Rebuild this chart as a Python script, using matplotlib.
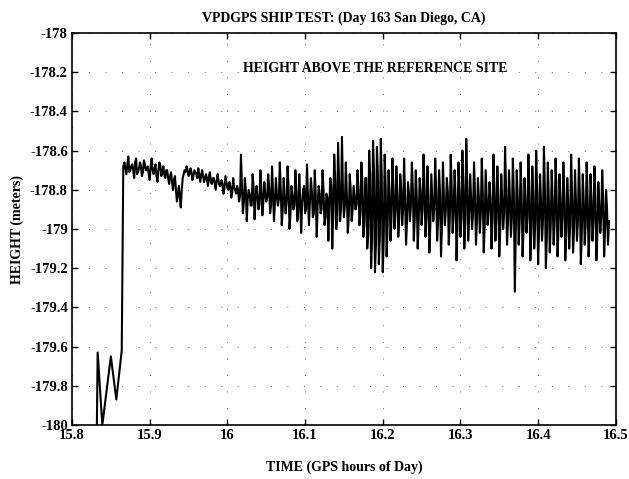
import numpy as np
import matplotlib
matplotlib.use('Agg')
from matplotlib import pyplot as plt
from matplotlib.ticker import FuncFormatter

plt.rcParams['font.family'] = ['Liberation Serif', 'DejaVu Serif']
plt.rcParams['font.weight'] = 'bold'
plt.rcParams['axes.unicode_minus'] = False

# start-up part of the record (receiver still settling)
t_start = [15.832, 15.833, 15.839, 15.850, 15.857, 15.864, 15.866]
h_start = [-180.0, -179.63, -180.0, -179.65, -179.87, -179.62, -178.68]

# main record, sampled every 0.0025 h from 15.8675 (spike extremes)
t0 = 15.8675
dt = 0.0025
h_main = [
    -178.66, -178.72, -178.63, -178.70, -178.67, -178.74, -178.64, -178.71, -178.66, -178.73,
    -178.65, -178.70, -178.68, -178.75, -178.64, -178.72, -178.67, -178.76, -178.66, -178.73,
    -178.68, -178.74, -178.70, -178.77, -178.71, -178.80, -178.73, -178.86, -178.78, -178.89,
    -178.74, -178.70, -178.68, -178.73, -178.69, -178.75, -178.70, -178.72, -178.69, -178.76,
    -178.70, -178.76, -178.72, -178.78, -178.71, -178.77, -178.74, -178.80, -178.72, -178.78,
    -178.75, -178.82, -178.73, -178.79, -178.76, -178.84, -178.74, -178.80, -178.78, -178.86,
    -178.62, -178.92, -178.74, -178.96, -178.80, -178.88, -178.72, -178.95, -178.78, -178.90,
    -178.70, -178.93, -178.76, -178.86, -178.72, -178.92, -178.68, -178.96, -178.74, -178.88,
    -178.66, -178.98, -178.74, -178.92, -178.68, -179.00, -178.78, -178.90, -178.70, -178.96,
    -178.72, -179.02, -178.80, -178.92, -178.67, -178.98, -178.74, -178.94, -178.70, -179.04,
    -178.78, -178.92, -178.70, -178.98, -178.82, -179.06, -178.74, -179.10, -178.62, -179.00,
    -178.56, -178.96, -178.53, -178.94, -178.66, -179.02, -178.72, -178.96, -178.78, -178.90,
    -178.70, -178.98, -178.66, -179.04, -178.74, -179.10, -178.60, -179.20, -178.55, -179.22,
    -178.58, -179.18, -178.54, -179.22, -178.62, -179.14, -178.70, -179.06, -178.64, -179.00,
    -178.68, -179.04, -178.72, -178.98, -178.64, -179.08, -178.76, -178.96, -178.66, -179.06,
    -178.70, -179.10, -178.74, -178.98, -178.62, -179.04, -178.68, -179.12, -178.72, -178.96,
    -178.64, -179.06, -178.70, -179.14, -178.66, -178.98, -178.74, -179.08, -178.62, -179.02,
    -178.70, -179.16, -178.66, -179.04, -178.60, -179.10, -178.54, -179.06, -178.72, -179.00,
    -178.66, -179.08, -178.74, -179.02, -178.64, -179.12, -178.70, -178.98, -178.76, -179.10,
    -178.62, -179.06, -178.68, -179.14, -178.72, -179.00, -178.58, -179.08, -178.70, -179.04,
    -178.64, -179.32, -178.70, -179.08, -178.66, -179.14, -178.74, -179.02, -178.62, -179.16,
    -178.68, -179.10, -178.60, -179.18, -178.72, -179.06, -178.58, -179.20, -178.66, -179.12,
    -178.70, -179.08, -178.64, -179.14, -178.72, -179.04, -178.66, -179.16, -178.74, -179.10,
    -178.62, -179.12, -178.70, -179.06, -178.64, -179.18, -178.72, -179.08, -178.66, -179.14,
    -178.72, -179.06, -178.68, -179.16, -178.76, -179.02, -178.70, -179.14, -178.80, -179.08,
]
# in-between samples (half a step later) - the dense core of the band
h_core = [
    -178.69, -178.67, -178.71, -178.68, -178.70, -178.66, -178.72, -178.69, -178.68, -178.71,
    -178.67, -178.70, -178.72, -178.68, -178.70, -178.69, -178.73, -178.70, -178.68, -178.71,
    -178.72, -178.70, -178.74, -178.73, -178.76, -178.75, -178.80, -178.82, -178.84, -178.80,
    -178.72, -178.71, -178.70, -178.72, -178.71, -178.73, -178.71, -178.74, -178.72, -178.73,
    -178.73, -178.74, -178.75, -178.73, -178.76, -178.74, -178.77, -178.75, -178.76, -178.78,
    -178.77, -178.79, -178.76, -178.80, -178.78, -178.81, -178.79, -178.82, -178.80, -178.83,
    -178.78, -178.86, -178.80, -178.84, -178.82, -178.88, -178.79, -178.85, -178.83, -178.87,
    -178.80, -178.86, -178.82, -178.84, -178.79, -178.88, -178.81, -178.86, -178.83, -178.85,
    -178.80, -178.90, -178.84, -178.86, -178.79, -178.92, -178.83, -178.88, -178.80, -178.91,
    -178.85, -178.87, -178.78, -178.90, -178.84, -178.86, -178.81, -178.92, -178.83, -178.88,
    -178.82, -178.90, -178.80, -178.94, -178.84, -178.88, -178.78, -178.92, -178.74, -178.96,
    -178.76, -178.90, -178.80, -178.88, -178.82, -178.94, -178.80, -178.90, -178.84, -178.87,
    -178.80, -178.92, -178.76, -178.98, -178.74, -179.02, -178.72, -179.06, -178.70, -179.08,
    -178.72, -179.04, -178.74, -179.06, -178.78, -178.98, -178.82, -178.94, -178.80, -178.92,
    -178.82, -178.94, -178.80, -178.90, -178.84, -178.96, -178.82, -178.88, -178.80, -178.94,
    -178.83, -178.96, -178.81, -178.90, -178.79, -178.94, -178.83, -178.98, -178.84, -178.90,
    -178.80, -178.96, -178.82, -178.98, -178.84, -178.90, -178.81, -178.96, -178.79, -178.92,
    -178.83, -178.98, -178.82, -178.94, -178.78, -178.96, -178.76, -178.94, -178.84, -178.92,
    -178.82, -178.96, -178.84, -178.92, -178.81, -178.98, -178.84, -178.90, -178.86, -178.96,
    -178.80, -178.94, -178.83, -179.00, -178.85, -178.92, -178.79, -178.96, -178.84, -178.94,
    -178.82, -179.02, -178.84, -178.96, -178.82, -179.00, -178.86, -178.94, -178.80, -179.02,
    -178.84, -178.98, -178.80, -179.00, -178.86, -178.96, -178.80, -179.04, -178.84, -178.98,
    -178.86, -178.96, -178.82, -179.00, -178.86, -178.94, -178.83, -179.02, -178.87, -178.98,
    -178.82, -179.00, -178.86, -178.96, -178.83, -179.02, -178.86, -178.98, -178.84, -179.00,
    -178.86, -178.96, -178.84, -179.02, -178.88, -178.94, -178.85, -179.00, -178.90, -178.96,
]

idx = np.arange(len(h_main))
t_main = np.ravel(np.column_stack([t0 + dt * idx, t0 + dt * (idx + 0.5)]))
h_both = np.ravel(np.column_stack([h_main, h_core]))

t = np.concatenate([t_start, t_main])
h = np.concatenate([h_start, h_both])

xticks = [15.8, 15.9, 16.0, 16.1, 16.2, 16.3, 16.4, 16.5]
yticks = [-180, -179.8, -179.6, -179.4, -179.2, -179, -178.8, -178.6, -178.4, -178.2, -178]

fig = plt.figure(figsize=(6.29, 4.79), dpi=100)
ax = fig.add_axes([0.1145, 0.1127, 0.8645, 0.8183])
ax.plot(t, h, color='black', lw=1.5)

ax.set_xlim(15.8, 16.5)
ax.set_ylim(-180, -178)
ax.set_xticks(xticks)
ax.set_yticks(yticks)
fmt = FuncFormatter(lambda v, p: '%g' % round(v, 3))
ax.xaxis.set_major_formatter(fmt)
ax.yaxis.set_major_formatter(fmt)
ax.tick_params(direction='in', length=4, width=1, top=True, right=True,
               labelsize=10.5, pad=3)
ax.grid(True, color='0.4', lw=0.7, linestyle=(0, (1, 16)))
for s in ax.spines.values():
    s.set_linewidth(1.2)

ax.set_title('VPDGPS SHIP TEST: (Day 163 San Diego, CA)', fontsize=10,
             fontweight='bold', pad=8)
ax.set_xlabel('TIME (GPS hours of Day)', fontsize=10, fontweight='bold', labelpad=13)
ax.set_ylabel('HEIGHT (meters)', fontsize=10, fontweight='bold', labelpad=4)
ax.text(16.19, -178.18, 'HEIGHT ABOVE THE REFERENCE SITE', ha='center', va='center',
        fontsize=10, fontweight='bold')

fig.savefig('out.png', dpi=100)
